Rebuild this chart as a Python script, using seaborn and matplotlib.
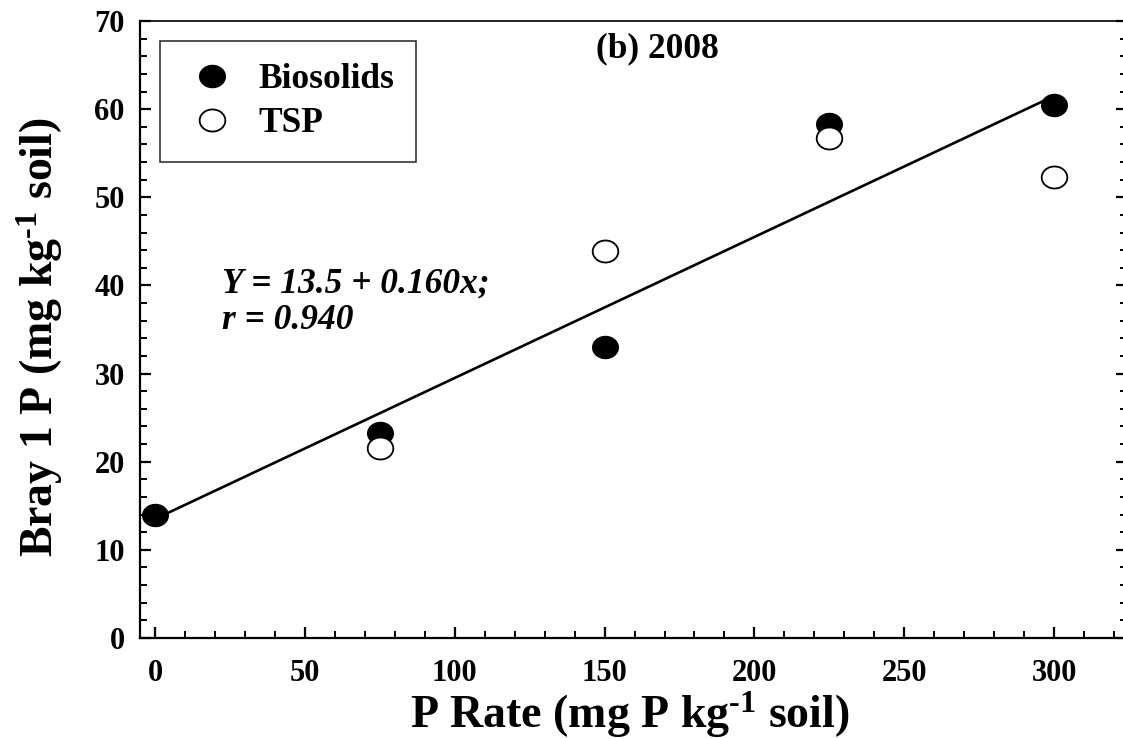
import numpy as np
import pandas as pd
import matplotlib
matplotlib.use("Agg")
import matplotlib.pyplot as plt
from matplotlib.path import Path
from matplotlib.lines import Line2D
from matplotlib.ticker import MultipleLocator
import seaborn as sns

# --- data -------------------------------------------------------------
p_rate = [0, 75, 150, 225, 300]
biosolids = [13.9, 23.3, 33.0, 58.3, 60.5]
tsp_rate = [75, 150, 225, 300]
tsp = [21.5, 43.9, 56.7, 52.3]
intercept = 13.5
slope = 0.160
r_value = 0.940
panel_title = "(b) 2008"
x_ticks = [0, 50, 100, 150, 200, 250, 300]
y_ticks = [0, 10, 20, 30, 40, 50, 60, 70]

# --- style ------------------------------------------------------------
sns.set_theme(style="white")
plt.rcParams["font.family"] = ["Liberation Serif", "DejaVu Serif"]
plt.rcParams["font.weight"] = "bold"
plt.rcParams["text.color"] = "black"
plt.rcParams["axes.labelcolor"] = "black"
plt.rcParams["xtick.color"] = "black"
plt.rcParams["ytick.color"] = "black"
plt.rcParams["mathtext.fontset"] = "custom"
plt.rcParams["mathtext.rm"] = "Liberation Serif:bold"
plt.rcParams["mathtext.bf"] = "Liberation Serif:bold"
plt.rcParams["mathtext.it"] = "Liberation Serif:bold:italic"

fig = plt.figure(figsize=(11.23, 7.38), dpi=100)
ax = fig.add_axes([140 / 1123, 100 / 738, 987 / 1123, 617 / 738])

# slightly wide ellipse marker
t = np.linspace(0, 2 * np.pi, 60)
ellipse = Path(np.column_stack([np.cos(t), 0.86 * np.sin(t)]), closed=True)

bio_df = pd.DataFrame({"rate": p_rate, "bray": biosolids})
tsp_df = pd.DataFrame({"rate": tsp_rate, "bray": tsp})

fit_x = np.array([p_rate[0], p_rate[-1]])
fit_df = pd.DataFrame({"rate": fit_x, "bray": intercept + slope * fit_x})
sns.lineplot(data=fit_df, x="rate", y="bray", color="black", linewidth=1.9, ax=ax, zorder=2)

sns.scatterplot(data=bio_df, x="rate", y="bray", marker=ellipse, s=340,
                color="black", edgecolor="black", linewidth=1.0, ax=ax, zorder=3)
sns.scatterplot(data=tsp_df, x="rate", y="bray", marker=ellipse, s=340,
                facecolor="white", edgecolor="black", linewidth=1.3, ax=ax, zorder=4)

# --- axes -------------------------------------------------------------
ax.set_xlim(-5.0, 324.3)
ax.set_ylim(0, 70)
ax.set_xticks(x_ticks)
ax.set_yticks(y_ticks)
ax.xaxis.set_minor_locator(MultipleLocator(10))
ax.yaxis.set_minor_locator(MultipleLocator(2))
for side in ["left", "bottom", "top", "right"]:
    ax.spines[side].set_visible(True)
    ax.spines[side].set_color("black")
    ax.spines[side].set_linewidth(1.6)
ax.spines["top"].set_linewidth(1.2)
ax.tick_params(axis="both", which="both", direction="in",
               bottom=True, left=True, right=True, top=False)
ax.tick_params(axis="x", which="major", length=8, width=1.6, pad=15, labelsize=22)
ax.tick_params(axis="x", which="minor", length=5, width=1.4)
ax.tick_params(axis="y", which="major", length=8, width=1.6, pad=11, labelsize=22)
ax.tick_params(axis="y", which="minor", length=5, width=1.4)
for lab in ax.get_xticklabels() + ax.get_yticklabels():
    lab.set_fontweight("bold")

ax.set_xlabel("")
ax.set_ylabel("")
fig.text(630 / 1123, 1 - 728 / 738, r"P Rate (mg P kg$^{\text{-1}}$ soil)",
         ha="center", va="baseline", fontsize=33, fontweight="bold")
fig.text(40 / 1123, 1 - 337 / 738, r"Bray 1 P (mg kg$^{\text{-1}}$ soil)",
         ha="center", va="center", rotation=90, fontsize=33, fontweight="bold")

ax.text(167.5, 66.9, panel_title, ha="center", va="center",
        fontsize=25.5, fontweight="bold")
ax.text(22.4, 38.1, f"Y = {intercept} + {slope:.3f}x;\nr = {r_value:.3f}",
        ha="left", va="center", fontsize=25.5, fontweight="bold",
        fontstyle="italic", linespacing=1.12)

# --- legend -----------------------------------------------------------
handles = [
    Line2D([], [], linestyle="none", marker=ellipse, markersize=18.5,
           markerfacecolor="black", markeredgecolor="black"),
    Line2D([], [], linestyle="none", marker=ellipse, markersize=18.5,
           markerfacecolor="white", markeredgecolor="black", markeredgewidth=1.3),
]
leg = ax.legend(handles, ["Biosolids", "TSP"], loc="upper left",
                bbox_to_anchor=(20 / 987, (638 - 41) / 617), borderaxespad=0,
                frameon=True, fancybox=False, framealpha=1, edgecolor="#333333",
                prop={"family": "Liberation Serif", "weight": "bold", "size": 25.5},
                handlelength=1.7, handletextpad=0.45, borderpad=0.62,
                labelspacing=0.32)
leg.get_frame().set_linewidth(1.2)

fig.savefig("out.png", dpi=100)
